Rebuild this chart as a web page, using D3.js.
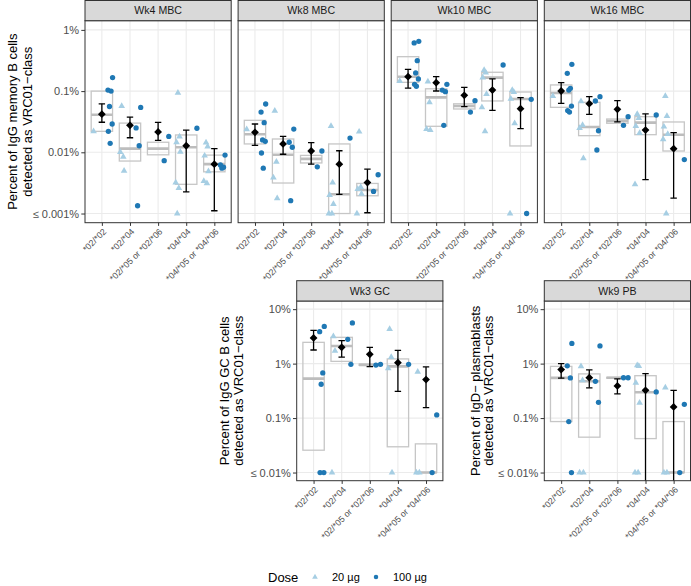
<!DOCTYPE html>
<html>
<head>
<meta charset="utf-8">
<script src="https://cdn.jsdelivr.net/npm/d3@7"></script>
<style>
  html, body { margin: 0; padding: 0; background: #fff; }
  svg { display: block; }
</style>
</head>
<body>
<svg id="chart" width="691" height="586"></svg>
<script>
// ---------------- DATA ----------------
const categories = ["*02/*02", "*02/*04", "*02/*05 or *02/*06", "*04/*04", "*04/*05 or *04/*06"];
const panelTitles = ["Wk4 MBC", "Wk8 MBC", "Wk10 MBC", "Wk16 MBC", "Wk3 GC", "Wk9 PB"];
const doseLabels = ["20 µg", "100 µg"];

const mbcTicks = [0.001, 0.01, 0.1, 1];
const mbcTickLabels = ["≤ 0.001%", "0.01%", "0.1%", "1%"];
const otherTicks = [0.01, 0.1, 1, 10];
const otherTickLabels = ["≤ 0.01%", "0.1%", "1%", "10%"];

const mbcTitle = ["Percent of IgG memory B cells", "detected as VRC01\u2212class"];
const gcTitle = ["Percent of IgG GC B cells", "detected as VRC01\u2212class"];
const pbTitle = ["Percent of IgD\u2212 plasmablasts", "detected as VRC01\u2212class"];

// values in percent; per category
const wk4_20 = [[0.022], [0.057, 0.0084, 0.0101, 0.005], [], [0.094, 0.018, 0.0146, 0.0102, 0.0032, 0.0026, 0.001], [0.0144, 0.0124, 0.0088, 0.0049, 0.0034, 0.0031]];
const wk4_100 = [[0.166, 0.104, 0.100, 0.056, 0.029, 0.022, 0.014], [0.054, 0.025, 0.0128, 0.00134], [0.0182, 0.0073], [0.0247], [0.009, 0.0062, 0.0057, 0.0055]];
const wk4_box = [[0.022, 0.041, 0.10], [0.0072, 0.0115, 0.030], [0.0091, 0.0115, 0.0146], [0.0030, 0.0121, 0.0192], [0.0048, 0.0064, 0.009]];
const wk4_est = [[0.042, 0.031, 0.062], [0.0276, 0.0173, 0.0377], [0.0215, 0.0157, 0.0309], [0.0128, 0.00225, 0.0231], [0.0064, 0.00111, 0.0115]];

const wk8_20 = [[0.0238], [0.0478, 0.007, 0.00385, 0.00177], [], [0.0269, 0.0032, 0.002, 0.00143, 0.001, 0.001], [0.0217, 0.0027, 0.0025, 0.0021, 0.001]];
const wk8_100 = [[0.0615, 0.0455, 0.0305, 0.0159, 0.0151, 0.00975, 0.0055], [0.024, 0.0146, 0.0121, 0.00162], [0.0105, 0.0058], [0.0171], [0.0043, 0.0023]];
const wk8_box = [[0.0137, 0.0197, 0.0333], [0.00315, 0.0091, 0.0165], [0.0067, 0.0078, 0.0089], [0.001, 0.00206, 0.0137], [0.00195, 0.00242, 0.0031]];
const wk8_est = [[0.0212, 0.013, 0.029], [0.0137, 0.0093, 0.0182], [0.0105, 0.0064, 0.0144], [0.0064, 0.00206, 0.0106], [0.0032, 0.00103, 0.0053]];

const wk10_20 = [[0.146], [0.1425, 0.0656, 0.024, 0.0231], [], [0.221, 0.2, 0.166, 0.0897, 0.0543, 0.022], [0.104, 0.0966, 0.075, 0.0298, 0.001]];
const wk10_100 = [[0.651, 0.611, 0.314, 0.198, 0.158, 0.129, 0.120], [0.129, 0.104, 0.0977, 0.0276], [0.0697, 0.0455], [0.267], [0.0734, 0.001]];
const wk10_box = [[0.139, 0.172, 0.365], [0.0266, 0.079, 0.109], [0.051, 0.057, 0.062], [0.069, 0.166, 0.203], [0.0127, 0.0743, 0.0966]];
const wk10_est = [[0.172, 0.112, 0.227], [0.137, 0.1004, 0.172], [0.0853, 0.0556, 0.1154], [0.104, 0.0486, 0.158], [0.0516, 0.0243, 0.078]];

const wk16_20 = [[0.0832], [0.068, 0.0279, 0.0249, 0.008], [], [0.0423, 0.0363, 0.0269, 0.0207, 0.003], [0.0832, 0.0392, 0.0262, 0.0199, 0.0163, 0.001]];
const wk16_100 = [[0.274, 0.195, 0.111, 0.104, 0.057, 0.048, 0.0455], [0.081, 0.0689, 0.0225, 0.0109], [0.0382, 0.0276], [0.0407], [0.0076]];
const wk16_box = [[0.0543, 0.0931, 0.126], [0.0187, 0.0259, 0.0656], [0.0298, 0.0325, 0.035], [0.0194, 0.0305, 0.0382], [0.0105, 0.0194, 0.0313]];
const wk16_est = [[0.1004, 0.0632, 0.137], [0.0622, 0.0418, 0.081], [0.0504, 0.0313, 0.0697], [0.0231, 0.00357, 0.0423], [0.01145, 0.00179, 0.0209]];

const gc_20 = [[], [3.17, 1.71, 0.01], [], [4.3, 1.32, 0.82, 0.01], [0.71, 0.01, 0.01]];
const gc_100 = [[4.83, 3.86, 0.675, 0.418, 0.01, 0.01], [5.58, 2.79, 0.97], [0.97, 0.94], [0.97], [0.114, 0.01]];
const gc_box = [[0.0257, 0.53, 2.46], [1.1, 2.11, 3.04], [0.93, 0.95, 0.98], [0.0297, 0.89, 1.22], [0.01, 0.01, 0.0336]];
const gc_est = [[2.96, 1.78, 4.08], [1.99, 1.32, 2.64], [1.48, 0.88, 1.99], [1.04, 0.31, 1.75], [0.51, 0.156, 0.87]];

const pb_20 = [[], [0.89, 0.494, 0.01, 0.01], [], [0.93, 0.9, 0.443, 0.19, 0.01, 0.01], [0.363, 0.01, 0.01]];
const pb_100 = [[2.35, 0.91, 0.547, 0.0863, 0.01], [2.11, 0.474, 0.195], [0.55, 0.55], [0.302], [0.179, 0.01]];
const pb_box = [[0.0863, 0.547, 0.89], [0.0446, 0.474, 0.648], [0.54, 0.55, 0.56], [0.042, 0.298, 0.6], [0.01, 0.01, 0.0863]];
const pb_est = [[0.776, 0.54, 1.0], [0.553, 0.36, 0.767], [0.39, 0.278, 0.524], [0.324, 0.001, 0.655], [0.16, 0.001, 0.324]];

// ---------------- STYLE / LAYOUT ----------------
const FONT = "'Liberation Sans', Arial, Helvetica, sans-serif";
const COL20 = "#A6CEE3", COL100 = "#1F78B4";
const svg = d3.select("#chart");
const jit = [0, 1.6, -1.4, 2.4, -2.2, 0.9, -0.7, 2.0, -1.8];

const topRow = { stripTop: 0.5, plotTop: 20.7, plotBottom: 222.7 };
const botRow = { stripTop: 280.7, plotTop: 301, plotBottom: 480.7 };
const PW = 146.2;

const panels = [
  { title: panelTitles[0], left: 85,    row: topRow, lim: [0.001, 1], ticks: mbcTicks, tl: mbcTickLabels, d20: wk4_20, d100: wk4_100, box: wk4_box, est: wk4_est, axis: true, ytitle: mbcTitle, tx: [16.8, 31.8] },
  { title: panelTitles[1], left: 238.1, row: topRow, lim: [0.001, 1], ticks: mbcTicks, tl: mbcTickLabels, d20: wk8_20, d100: wk8_100, box: wk8_box, est: wk8_est, axis: false },
  { title: panelTitles[2], left: 391.2, row: topRow, lim: [0.001, 1], ticks: mbcTicks, tl: mbcTickLabels, d20: wk10_20, d100: wk10_100, box: wk10_box, est: wk10_est, axis: false },
  { title: panelTitles[3], left: 544.3, row: topRow, lim: [0.001, 1], ticks: mbcTicks, tl: mbcTickLabels, d20: wk16_20, d100: wk16_100, box: wk16_box, est: wk16_est, axis: false },
  { title: panelTitles[4], left: 296.7, row: botRow, lim: [0.01, 10], ticks: otherTicks, tl: otherTickLabels, d20: gc_20, d100: gc_100, box: gc_box, est: gc_est, axis: true, ytitle: gcTitle, tx: [229.3, 243.3] },
  { title: panelTitles[5], left: 544.3, row: botRow, lim: [0.01, 10], ticks: otherTicks, tl: otherTickLabels, d20: pb_20, d100: pb_100, box: pb_box, est: pb_est, axis: true, ytitle: pbTitle, tx: [479.5, 493.0] }
];

panels.forEach((p, pi) => {
  const r = p.row;
  const lo = Math.log10(p.lim[0]), hi = Math.log10(p.lim[1]);
  const ex = (hi - lo) * 0.05;
  const y = d3.scaleLog().domain([Math.pow(10, lo - ex), Math.pow(10, hi + ex)]).range([r.plotBottom, r.plotTop]);
  const x = d3.scalePoint().domain(categories).range([p.left, p.left + PW]).padding(0.6);
  const step = x.step();
  const g = svg.append("g");

  const clipId = "clip" + pi;
  svg.append("clipPath").attr("id", clipId).append("rect")
    .attr("x", p.left).attr("y", r.plotTop).attr("width", PW).attr("height", r.plotBottom - r.plotTop);

  // background grid
  g.append("rect").attr("x", p.left).attr("y", r.plotTop).attr("width", PW).attr("height", r.plotBottom - r.plotTop).attr("fill", "#fff");
  g.selectAll(".hg").data(p.ticks).join("line")
    .attr("x1", p.left).attr("x2", p.left + PW)
    .attr("y1", d => y(d)).attr("y2", d => y(d))
    .attr("stroke", "#EBEBEB").attr("stroke-width", 1.1);
  g.selectAll(".vg").data(categories).join("line")
    .attr("x1", d => x(d)).attr("x2", d => x(d))
    .attr("y1", r.plotTop).attr("y2", r.plotBottom)
    .attr("stroke", "#EBEBEB").attr("stroke-width", 1.1);

  const inner = g.append("g").attr("clip-path", `url(#${clipId})`);
  const bw = step * 0.76;

  // boxes
  categories.forEach((c, ci) => {
    const b = p.box[ci];
    const cx = x(c);
    inner.append("rect")
      .attr("x", cx - bw / 2).attr("y", y(b[2]))
      .attr("width", bw).attr("height", Math.max(0.01, y(b[0]) - y(b[2])))
      .attr("fill", "none").attr("stroke", "#C6C6C6").attr("stroke-width", 1.3);
    inner.append("line")
      .attr("x1", cx - bw / 2).attr("x2", cx + bw / 2)
      .attr("y1", y(b[1])).attr("y2", y(b[1]))
      .attr("stroke", "#BDBDBD").attr("stroke-width", 2.6);
  });

  // points
  const tri = d3.symbol().type(d3.symbolTriangle).size(19)();
  const circ = d3.symbol().type(d3.symbolCircle).size(22)();
  categories.forEach((c, ci) => {
    const cx = x(c);
    p.d20[ci].forEach((v, i) => {
      inner.append("path").attr("d", tri)
        .attr("transform", `translate(${cx - 8.3 + jit[i % jit.length]},${y(v)})`)
        .attr("fill", COL20);
    });
    p.d100[ci].forEach((v, i) => {
      inner.append("path").attr("d", circ)
        .attr("transform", `translate(${cx + 8.3 + jit[(i + 3) % jit.length]},${y(v)})`)
        .attr("fill", COL100);
    });
  });

  // mean + error bars
  categories.forEach((c, ci) => {
    const e = p.est[ci];
    const cx = x(c);
    inner.append("line").attr("x1", cx).attr("x2", cx).attr("y1", y(e[1])).attr("y2", y(e[2]))
      .attr("stroke", "#000").attr("stroke-width", 1.3);
    [e[1], e[2]].forEach(v => {
      inner.append("line").attr("x1", cx - 3.2).attr("x2", cx + 3.2).attr("y1", y(v)).attr("y2", y(v))
        .attr("stroke", "#000").attr("stroke-width", 1.3);
    });
    const yy = y(e[0]), s = 3.9;
    inner.append("path")
      .attr("d", `M${cx},${yy - s}L${cx + s},${yy}L${cx},${yy + s}L${cx - s},${yy}Z`)
      .attr("fill", "#000");
  });

  // panel border
  g.append("rect").attr("x", p.left).attr("y", r.plotTop).attr("width", PW).attr("height", r.plotBottom - r.plotTop)
    .attr("fill", "none").attr("stroke", "#333333").attr("stroke-width", 1);

  // strip
  g.append("rect").attr("x", p.left).attr("y", r.stripTop).attr("width", PW).attr("height", r.plotTop - r.stripTop)
    .attr("fill", "#D9D9D9").attr("stroke", "#333333").attr("stroke-width", 1);
  g.append("text").attr("x", p.left + PW / 2).attr("y", (r.stripTop + r.plotTop) / 2)
    .attr("dy", "0.35em").attr("text-anchor", "middle")
    .attr("font-family", FONT).attr("font-size", 10.6).attr("fill", "#1A1A1A")
    .text(p.title);

  // x axis
  const xa = g.append("g").attr("transform", `translate(0,${r.plotBottom})`)
    .call(d3.axisBottom(x).tickSize(3.2).tickSizeOuter(0));
  xa.select(".domain").remove();
  xa.selectAll(".tick line").attr("stroke", "#333333");
  xa.selectAll(".tick text")
    .attr("font-family", FONT).attr("font-size", 8.8).attr("fill", "#4D4D4D")
    .attr("text-anchor", "end")
    .attr("y", 0).attr("x", 0).attr("dy", "0.72em")
    .attr("transform", "translate(0,5) rotate(-45)");

  // y axis
  if (p.axis) {
    const ya = g.append("g").attr("transform", `translate(${p.left},0)`)
      .call(d3.axisLeft(y).tickValues(p.ticks).tickFormat((d, i) => p.tl[i]).tickSize(3.7).tickPadding(2.2));
    ya.select(".domain").remove();
    ya.selectAll(".tick line").attr("stroke", "#333333");
    ya.selectAll(".tick text").attr("font-family", FONT).attr("font-size", 11).attr("fill", "#4D4D4D");
    const cy = (r.plotTop + r.plotBottom) / 2;
    p.ytitle.forEach((t, i) => {
      svg.append("text")
        .attr("transform", `translate(${p.tx[i]},${cy}) rotate(-90)`)
        .attr("text-anchor", "middle")
        .attr("font-family", FONT).attr("font-size", 13).attr("fill", "#000")
        .text(t);
    });
  }
});

// ---------------- LEGEND ----------------
const lg = svg.append("g");
lg.append("text").attr("x", 268).attr("y", 577).attr("dy", "0.35em")
  .attr("font-family", FONT).attr("font-size", 13).attr("fill", "#000").text("Dose");
lg.append("path").attr("d", d3.symbol().type(d3.symbolTriangle).size(14)())
  .attr("transform", "translate(315,577)").attr("fill", COL20);
lg.append("text").attr("x", 332).attr("y", 577).attr("dy", "0.35em")
  .attr("font-family", FONT).attr("font-size", 11).attr("fill", "#000").text(doseLabels[0]);
lg.append("path").attr("d", d3.symbol().type(d3.symbolCircle).size(16)())
  .attr("transform", "translate(376,577)").attr("fill", COL100);
lg.append("text").attr("x", 393).attr("y", 577).attr("dy", "0.35em")
  .attr("font-family", FONT).attr("font-size", 11).attr("fill", "#000").text(doseLabels[1]);
</script>
</body>
</html>
